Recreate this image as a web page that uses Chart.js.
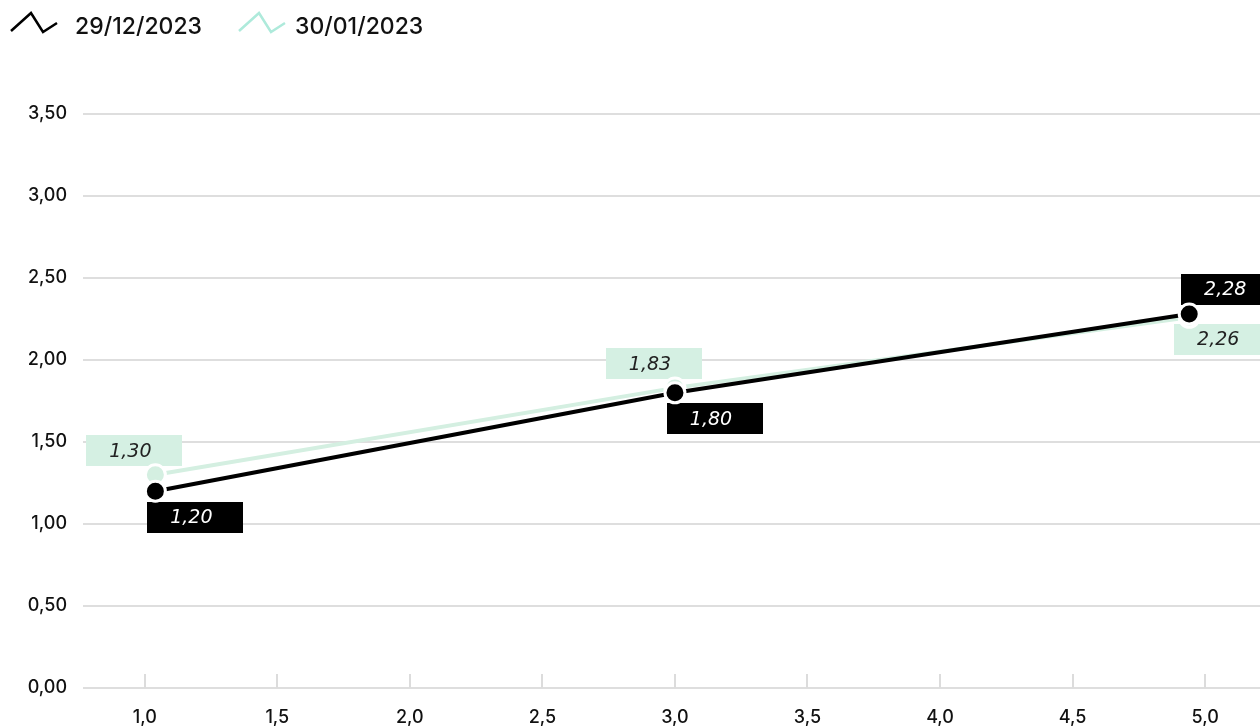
<!DOCTYPE html>
<html>
<head>
<meta charset="utf-8">
<script src="https://cdn.jsdelivr.net/npm/chart.js@4/dist/chart.umd.min.js"></script>
<style>
  html, body { margin: 0; padding: 0; background: #ffffff; }
  #wrap { width: 1260px; height: 726px; }
</style>
</head>
<body>
<div id="wrap"><canvas id="curve" width="1260" height="726"></canvas></div>
<script>
// Yield curve points (maturity in years -> rate in %)
const seriesNames = ['29/12/2023', '30/01/2023'];
const maturities = [1.04, 3.0, 4.94];
const ratesDec = [1.20, 1.80, 2.28];
const ratesJan = [1.30, 1.83, 2.26];
const xTickValues = [1.0, 1.5, 2.0, 2.5, 3.0, 3.5, 4.0, 4.5, 5.0];
const yTickValues = [0, 0.5, 1.0, 1.5, 2.0, 2.5, 3.0, 3.5];

const comma = (v, d) => v.toFixed(d).replace('.', ',');

const TICK_FONT = { family: 'Inter', size: 18, weight: '500' };

// Value tags: a filled box with the rate next to each point
const valueTags = {
  id: 'valueTags',
  beforeDatasetsDraw(chart) {
    const ctx = chart.ctx;
    const w = 96, h = 31;
    ctx.save();
    chart.data.datasets.forEach((ds, di) => {
      const meta = chart.getDatasetMeta(di);
      const n = meta.data.length;
      meta.data.forEach((pt, i) => {
        const last = i === n - 1;
        let dx, dy;
        if (ds.tagSide === 'below') {
          dx = 40; dy = last ? -25 : 26;
        } else {
          dx = last ? 33 : -21; dy = last ? 22 : -24;
        }
        const cx = pt.x + dx, cy = pt.y + dy;
        ctx.fillStyle = ds.tagFill;
        ctx.fillRect(Math.round(cx - w / 2), Math.round(cy - h / 2), w, h);
        ctx.fillStyle = ds.tagText;
        ctx.font = 'italic 200 19px "DejaVu Sans"';
        ctx.textAlign = 'center';
        ctx.textBaseline = 'middle';
        ctx.fillText(comma(ds.data[i].y, 2), cx - 4, cy + 1);
      });
    });
    ctx.restore();
  }
};

// Short tick marks rising from the base line at each x tick
const baseTicks = {
  id: 'baseTicks',
  beforeDatasetsDraw(chart) {
    const ctx = chart.ctx;
    const xs = chart.scales.x;
    const bottom = chart.chartArea.bottom;
    ctx.save();
    ctx.strokeStyle = '#dcdcdc';
    ctx.lineWidth = 2;
    xs.ticks.forEach(t => {
      const x = Math.round(xs.getPixelForValue(t.value));
      ctx.beginPath();
      ctx.moveTo(x, bottom - 14);
      ctx.lineTo(x, bottom);
      ctx.stroke();
    });
    ctx.restore();
  }
};

// Series key in the top-left corner with zig-zag line swatches
const seriesKey = {
  id: 'seriesKey',
  afterDraw(chart) {
    const ctx = chart.ctx;
    const starts = [11, 239];
    const textGap = [64, 56];
    ctx.save();
    chart.data.datasets.forEach((ds, di) => {
      const x0 = starts[di], y0 = 13;
      ctx.strokeStyle = ds.keyColor;
      ctx.lineWidth = 2.5;
      ctx.lineJoin = 'miter';
      ctx.beginPath();
      ctx.moveTo(x0, y0 + 18);
      ctx.lineTo(x0 + 20, y0);
      ctx.lineTo(x0 + 32, y0 + 19);
      ctx.lineTo(x0 + 46, y0 + 10);
      ctx.stroke();
      ctx.fillStyle = '#111111';
      ctx.font = '500 23px Inter';
      ctx.textAlign = 'left';
      ctx.textBaseline = 'middle';
      ctx.fillText(ds.label, x0 + textGap[di], 27);
    });
    ctx.restore();
  }
};

const toPoints = ys => ys.map((y, i) => ({ x: maturities[i], y }));

new Chart(document.getElementById('curve'), {
  type: 'line',
  data: {
    datasets: [
      {
        label: seriesNames[0],
        data: toPoints(ratesDec),
        borderColor: '#000000',
        borderWidth: 4,
        pointRadius: 10,
        pointBorderWidth: 3,
        pointBackgroundColor: '#000000',
        pointBorderColor: '#ffffff',
        keyColor: '#000000',
        tagSide: 'below',
        tagFill: '#000000',
        tagText: '#ffffff'
      },
      {
        label: seriesNames[1],
        data: toPoints(ratesJan),
        borderColor: '#d4efe1',
        borderWidth: 4,
        pointRadius: 10,
        pointBorderWidth: 3,
        pointBackgroundColor: '#d4efe1',
        pointBorderColor: '#ffffff',
        keyColor: '#aeeadb',
        tagSide: 'above',
        tagFill: '#d5f0e3',
        tagText: '#222222'
      }
    ]
  },
  options: {
    responsive: false,
    animation: false,
    events: [],
    layout: { autoPadding: false, padding: { top: 114, left: 0, right: 0, bottom: 0 } },
    scales: {
      x: {
        type: 'linear',
        min: 0.767,
        max: 5.207,
        grid: { display: false, drawTicks: false },
        border: { display: false },
        afterBuildTicks: s => { s.ticks = xTickValues.map(v => ({ value: v })); },
        afterFit: s => { s.height = 38; s.paddingLeft = 0; s.paddingRight = 0; },
        ticks: {
          padding: 19,
          color: '#111111',
          font: TICK_FONT,
          maxRotation: 0,
          autoSkip: false,
          callback: v => comma(v, 1)
        }
      },
      y: {
        type: 'linear',
        min: 0,
        max: 3.5,
        afterFit: s => { s.width = 83; },
        afterBuildTicks: s => { s.ticks = yTickValues.map(v => ({ value: v })); },
        grid: { color: '#dedede', lineWidth: 2, drawTicks: false },
        border: { display: false },
        ticks: {
          padding: 16,
          color: '#111111',
          font: TICK_FONT,
          callback: v => comma(v, 2)
        }
      }
    },
    plugins: {
      legend: { display: false },
      tooltip: { enabled: false }
    }
  },
  plugins: [baseTicks, valueTags, seriesKey]
});
</script>
</body>
</html>
